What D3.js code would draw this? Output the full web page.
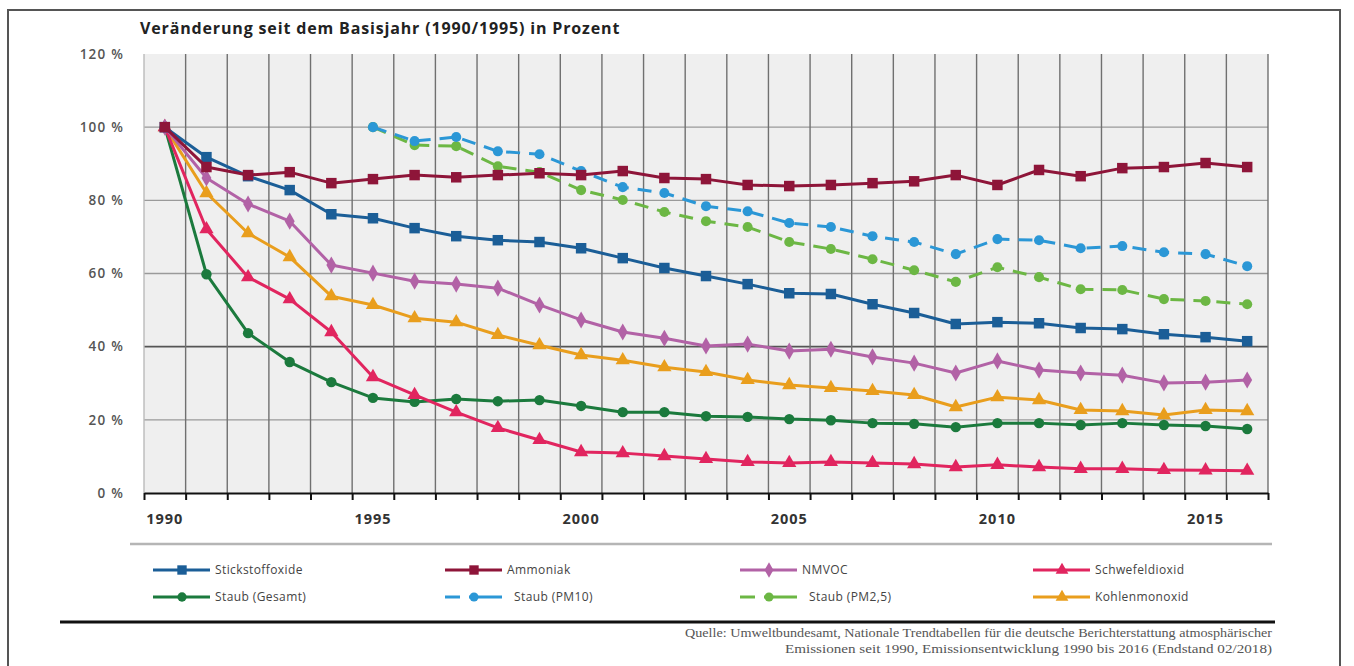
<!DOCTYPE html>
<html><head><meta charset="utf-8">
<script src="https://cdn.jsdelivr.net/npm/d3@7"></script>
<style>
html,body{margin:0;padding:0;background:#fff;}
svg{display:block;}
</style></head>
<body>
<svg id="chart" width="1354" height="666"></svg>
<script>
const years = [1990,1991,1992,1993,1994,1995,1996,1997,1998,1999,2000,2001,2002,2003,2004,2005,2006,2007,2008,2009,2010,2011,2012,2013,2014,2015,2016];
const xTickLabels = [1990,1995,2000,2005,2010,2015];
const yTicks = [0,20,40,60,80,100,120];

const stickstoffoxide = [100,91.8,86.6,82.8,76.2,75.1,72.4,70.2,69.1,68.6,66.9,64.2,61.5,59.3,57.1,54.6,54.4,51.6,49.2,46.2,46.7,46.4,45.1,44.8,43.4,42.6,41.5];
const ammoniak = [100,89.1,86.9,87.7,84.7,85.8,86.9,86.3,86.9,87.4,86.9,88.0,86.1,85.8,84.2,83.9,84.2,84.7,85.2,86.9,84.2,88.3,86.6,88.8,89.1,90.2,89.1];
const nmvoc = [100,86.1,79.0,74.3,62.3,60.1,57.9,57.1,56.0,51.4,47.3,44.0,42.3,40.2,40.7,38.8,39.3,37.2,35.5,32.8,36.1,33.6,32.8,32.2,30.1,30.3,30.9];
const schwefeldioxid = [100,72.1,59.0,53.0,44.0,31.7,26.8,22.1,17.8,14.5,11.2,10.9,10.1,9.3,8.5,8.2,8.5,8.2,7.9,7.1,7.7,7.1,6.6,6.6,6.3,6.2,6.1];
const staubGesamt = [100,59.8,43.7,35.8,30.3,26.0,24.9,25.7,25.1,25.4,23.8,22.1,22.1,21.0,20.8,20.2,19.9,19.1,18.9,18.0,19.1,19.1,18.6,19.1,18.6,18.3,17.5];
const staubPM10 = [null,null,null,null,null,100,96.2,97.3,93.4,92.6,88.0,83.6,82.0,78.4,77.0,73.8,72.7,70.2,68.6,65.3,69.4,69.1,66.9,67.5,65.8,65.3,62.0];
const staubPM25 = [null,null,null,null,null,100,95.1,94.8,89.3,87.7,82.8,80.1,76.8,74.3,72.7,68.6,66.7,63.9,60.9,57.7,61.7,59.0,55.7,55.5,53.0,52.5,51.6];
const kohlenmonoxid = [100,82.0,71.0,64.5,53.8,51.4,47.8,46.7,43.2,40.4,37.7,36.3,34.4,33.1,30.9,29.5,28.7,27.9,26.8,23.5,26.2,25.4,22.7,22.4,21.3,22.7,22.4];

const seriesNames = ["Stickstoffoxide","Ammoniak","NMVOC","Schwefeldioxid","Staub (Gesamt)","Staub (PM10)","Staub (PM2,5)","Kohlenmonoxid"];
const seriesValues = [stickstoffoxide, ammoniak, nmvoc, schwefeldioxid, staubGesamt, staubPM10, staubPM25, kohlenmonoxid];

const style = {
  "Stickstoffoxide": {color:"#1b5e97", sym:d3.symbolSquare, size:110, dash:null},
  "Ammoniak": {color:"#8e1539", sym:d3.symbolSquare, size:110, dash:null},
  "NMVOC": {color:"#b262a6", sym:d3.symbolDiamond, size:85, dash:null},
  "Schwefeldioxid": {color:"#e1255f", sym:d3.symbolTriangle, size:88, dash:null},
  "Staub (Gesamt)": {color:"#1b7a3d", sym:d3.symbolCircle, size:85, dash:null},
  "Staub (PM10)": {color:"#2b97d6", sym:d3.symbolCircle, size:80, dash:"14,9"},
  "Staub (PM2,5)": {color:"#6cb744", sym:d3.symbolCircle, size:80, dash:"14,9"},
  "Kohlenmonoxid": {color:"#e99e1d", sym:d3.symbolTriangle, size:88, dash:null}
};
const drawOrder = ["Staub (PM2,5)","Staub (PM10)","Kohlenmonoxid","Staub (Gesamt)","Schwefeldioxid","NMVOC","Stickstoffoxide","Ammoniak"];

const svg = d3.select("#chart");
const L = 144, R = 1268, T = 54, B = 493;

svg.append("rect").attr("x",8).attr("y",10).attr("width",1332).attr("height",700)
  .attr("fill","none").attr("stroke","#555").attr("stroke-width",2);

const x = d3.scaleBand().domain(years).range([L,R]).padding(0);
const xe = d3.scaleLinear().domain([1989.5,2016.5]).range([L,R]);
const y = d3.scaleLinear().domain([0,120]).range([B,T]);

svg.append("rect").attr("x",L).attr("y",T).attr("width",R-L).attr("height",B-T).attr("fill","#efefef");

svg.append("text").attr("x",140).attr("y",34).attr("font-family","Open Sans, sans-serif")
  .attr("font-weight","bold").attr("font-size",16).attr("letter-spacing","0.85px").attr("fill","#222")
  .text("Veränderung seit dem Basisjahr (1990/1995) in Prozent");

svg.append("g").selectAll("line").data(yTicks.filter(d=>d>0 && d<120)).join("line")
  .attr("x1",L).attr("x2",R).attr("y1",d=>y(d)).attr("y2",d=>y(d))
  .attr("stroke",d=>d===40?"#555":"#9a9a9a").attr("stroke-width",d=>d===40?1.6:1.4);

const edges = d3.range(years.length+1).map(i=>1989.5+i);
svg.append("g").selectAll("line").data(edges).join("line")
  .attr("x1",d=>xe(d)).attr("x2",d=>xe(d)).attr("y1",T).attr("y2",B)
  .attr("stroke",(d,i)=>i===0?"#bbb":"#707070").attr("stroke-width",1.4);

const yAxis = svg.append("g").attr("transform",`translate(${L-17},0)`)
  .call(d3.axisLeft(y).tickValues(yTicks).tickFormat(d=>d+" %").tickSize(0));
yAxis.select(".domain").remove();
yAxis.selectAll("text").attr("font-family","Open Sans, sans-serif").attr("font-weight",600).attr("font-size",13.5)
  .attr("letter-spacing","1.2px").attr("fill","#555");

const xAxis = svg.append("g").attr("transform",`translate(0,${B})`)
  .call(d3.axisBottom(xe).tickValues(edges).tickFormat("").tickSize(7).tickSizeOuter(0));
xAxis.select(".domain").attr("stroke","#111").attr("stroke-width",2.2);
xAxis.selectAll(".tick line").attr("stroke","#111").attr("stroke-width",2);

const xLab = svg.append("g").attr("transform",`translate(0,${B})`)
  .call(d3.axisBottom(x).tickValues(xTickLabels).tickSize(0).tickPadding(21));
xLab.select(".domain").remove();
xLab.selectAll("text").attr("font-family","Open Sans, sans-serif").attr("font-weight","bold")
  .attr("font-size",14.5).attr("letter-spacing","1px").attr("fill","#333");

const cx = d => x(d) + x.bandwidth()/2;
const line = d3.line().defined(d=>d.v!==null).x(d=>cx(d.year)).y(d=>y(d.v));
const gLines = svg.append("g");
drawOrder.forEach(name => {
  const idx = seriesNames.indexOf(name);
  const st = style[name];
  const data = years.map((yr,i)=>({year:yr, v:seriesValues[idx][i]}));
  gLines.append("path").datum(data).attr("d",line).attr("fill","none")
    .attr("stroke",st.color).attr("stroke-width",3).attr("stroke-linejoin","round")
    .attr("stroke-dasharray",st.dash);
  gLines.append("g").selectAll("path").data(data.filter(d=>d.v!==null)).join("path")
    .attr("transform",d=>`translate(${cx(d.year)},${y(d.v)})`)
    .attr("d",d3.symbol().type(st.sym).size(st.size)).attr("fill",st.color);
});

svg.append("line").attr("x1",130).attr("x2",1272).attr("y1",544).attr("y2",544)
  .attr("stroke","#b5b5b5").attr("stroke-width",2.5);

const legCols = [153,445,740,1033];
const legRows = [570,597];
const legOrder = ["Stickstoffoxide","Ammoniak","NMVOC","Schwefeldioxid","Staub (Gesamt)","Staub (PM10)","Staub (PM2,5)","Kohlenmonoxid"];
legOrder.forEach((name,i)=>{
  const st = style[name];
  const lx = legCols[i%4], ly = legRows[Math.floor(i/4)];
  const g = svg.append("g");
  if (st.dash) {
    g.append("line").attr("x1",lx).attr("x2",lx+15).attr("y1",ly).attr("y2",ly).attr("stroke",st.color).attr("stroke-width",3);
    g.append("line").attr("x1",lx+24).attr("x2",lx+57).attr("y1",ly).attr("y2",ly).attr("stroke",st.color).attr("stroke-width",3);
  } else {
    g.append("line").attr("x1",lx).attr("x2",lx+57).attr("y1",ly).attr("y2",ly).attr("stroke",st.color).attr("stroke-width",3);
  }
  g.append("path").attr("transform",`translate(${lx+29},${ly})`)
    .attr("d",d3.symbol().type(st.sym).size(st.size*0.8)).attr("fill",st.color);
  g.append("text").attr("x",lx+62 + (st.dash?7:0)).attr("y",ly+4).attr("font-family","Open Sans, sans-serif")
    .attr("font-size",12).attr("letter-spacing","0.4px").attr("fill","#444").text(name);
});

svg.append("line").attr("x1",60).attr("x2",1275).attr("y1",622).attr("y2",622)
  .attr("stroke","#111").attr("stroke-width",3);

const src = svg.append("g").attr("font-family","Liberation Serif, serif").attr("font-size",12.5).attr("fill","#555").attr("text-anchor","end");
src.append("text").attr("x",1272).attr("y",637).attr("textLength",587).attr("lengthAdjust","spacingAndGlyphs")
  .text("Quelle: Umweltbundesamt, Nationale Trendtabellen für die deutsche Berichterstattung atmosphärischer");
src.append("text").attr("x",1272).attr("y",653).attr("textLength",487).attr("lengthAdjust","spacingAndGlyphs")
  .text("Emissionen seit 1990, Emissionsentwicklung 1990 bis 2016 (Endstand 02/2018)");
</script>
</body></html>
